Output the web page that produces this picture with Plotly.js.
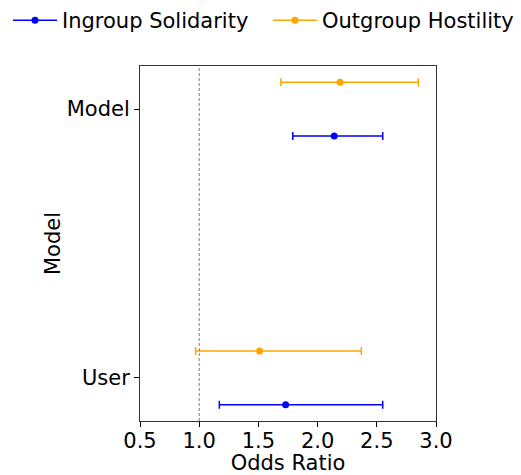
<!DOCTYPE html>
<html>
<head>
<meta charset="utf-8">
<script src="https://cdn.plot.ly/plotly-3.0.1.min.js"></script>
<style>html,body{margin:0;padding:0;background:#fff;}#chart{width:521px;height:475px;}</style>
</head>
<body>
<div id="chart"></div>
<script>
// Categories (y positions 0 = User, 1 = Model)
const categories = ["User", "Model"];
const categoryPos = [0, 1];
const seriesNames = ["Ingroup Solidarity", "Outgroup Hostility"];
const seriesOffsets = [-0.1, 0.1];
const seriesColors = ["#0000ff", "#ffa500"];

// Odds ratios and 95% CI bounds, order: User, Model
const ingroupOR = [1.73, 2.14];
const ingroupLow = [1.17, 1.79];
const ingroupHigh = [2.55, 2.55];
const outgroupOR = [1.51, 2.19];
const outgroupLow = [0.97, 1.69];
const outgroupHigh = [2.37, 2.85];

const xTicks = [0.5, 1.0, 1.5, 2.0, 2.5, 3.0];
const xTickText = ["0.5", "1.0", "1.5", "2.0", "2.5", "3.0"];

const FONT = "DejaVu Sans, sans-serif";
const FS = 21;

function makeTrace(i, or, lo, hi) {
  return {
    type: "scatter",
    mode: "markers",
    x: or,
    y: categoryPos.map(p => p + seriesOffsets[i]),
    marker: { color: seriesColors[i], size: 7 },
    error_x: {
      type: "data",
      symmetric: false,
      array: or.map((v, k) => hi[k] - v),
      arrayminus: or.map((v, k) => v - lo[k]),
      color: seriesColors[i],
      thickness: 1.5,
      width: 4
    },
    showlegend: false,
    hoverinfo: "x"
  };
}
function legendTrace(i, legendId) {
  return {
    type: "scatter",
    mode: "lines+markers",
    x: [null], y: [null],
    name: seriesNames[i],
    line: { color: seriesColors[i], width: 1.5 },
    marker: { color: seriesColors[i], size: 7 },
    legend: legendId,
    showlegend: true
  };
}

const data = [
  makeTrace(0, ingroupOR, ingroupLow, ingroupHigh),
  makeTrace(1, outgroupOR, outgroupLow, outgroupHigh),
  legendTrace(0, "legend"),
  legendTrace(1, "legend2")
];

function legendAt(px) {
  return {
    orientation: "h",
    xref: "container", yref: "container",
    x: px / 521, y: 1, xanchor: "left", yanchor: "top",
    itemwidth: 44,
    font: { size: FS },
    bgcolor: "rgba(0,0,0,0)"
  };
}

const layout = {
  width: 521, height: 475,
  margin: { l: 140, r: 85, t: 66, b: 54, autoexpand: false },
  paper_bgcolor: "#fff", plot_bgcolor: "#fff",
  font: { family: FONT, size: FS, color: "#000" },
  xaxis: {
    range: [0.5, 3.0],
    tickvals: xTicks, ticktext: xTickText,
    ticks: "outside", ticklen: 5, tickcolor: "#000",
    ticklabelstandoff: -4,
    showline: true, mirror: true, linecolor: "#333", linewidth: 1,
    showgrid: false, zeroline: false,
    title: { text: "Odds Ratio", font: { size: FS }, standoff: 4 }
  },
  yaxis: {
    range: [-0.16, 1.16],
    tickvals: categoryPos, ticktext: categories,
    ticks: "outside", ticklen: 5, tickcolor: "#000",
    showline: true, mirror: true, linecolor: "#333", linewidth: 1,
    showgrid: false, zeroline: false,
    title: { text: "Model", font: { size: FS }, standoff: 0 }
  },
  shapes: [{
    type: "line", xref: "x", yref: "paper",
    x0: 1, x1: 1, y0: 0, y1: 1,
    line: { color: "#777", width: 1, dash: "3px,2px" }
  }],
  legend: legendAt(8),
  legend2: legendAt(268),
  showlegend: true
};

Plotly.newPlot("chart", data, layout, { displayModeBar: false, staticPlot: true });
</script>
</body>
</html>
